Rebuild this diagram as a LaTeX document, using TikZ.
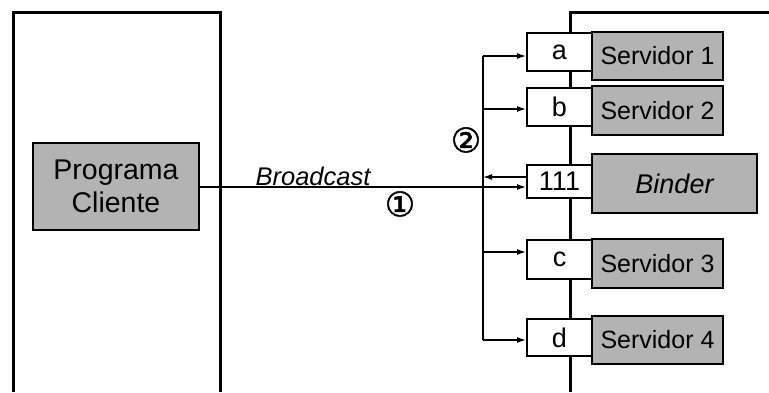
\documentclass[tikz,border=0pt]{standalone}
\usepackage{fontspec}
\setmainfont{Liberation Sans}
\newfontfamily\symfont[FakeBold=1.5]{DejaVu Sans}
\usetikzlibrary{arrows.meta}
\definecolor{boxgray}{HTML}{B3B3B3}
\tikzset{
  machine/.style={line width=3pt},
  procbox/.style={draw, line width=2pt, fill=boxgray, rectangle, inner sep=0pt, font=\fontsize{25}{28}\selectfont},
  portbox/.style={draw, line width=2pt, fill=white, rectangle, inner sep=0pt, font=\fontsize{27}{30}\selectfont},
  msg/.style={line width=1.3pt, -{Latex[length=9pt,width=6pt]}},
  wire/.style={line width=1.3pt},
  lbl/.style={inner sep=0pt, font=\fontsize{25.5}{28}\selectfont\itshape},
  num/.style={inner sep=0pt, font=\fontsize{34}{36}\selectfont\symfont}
}
\begin{document}
\begin{tikzpicture}[x=1pt,y=-1pt]
\useasboundingbox (0,0) rectangle (769,392);
% machines
\draw[machine] (13,392) -- (13,12) -- (220,12) -- (220,392);
\draw[machine] (570,392) -- (570,12) -- (769,12);
% client
\node[procbox, minimum width=166pt, minimum height=87pt, align=center, font=\fontsize{28.5}{33}\selectfont] (client) at (116,186.5) {Programa\\Cliente};
% ports
\node[portbox, minimum width=65pt, minimum height=38pt] (pa) at (559.5,52) {a};
\node[portbox, minimum width=65pt, minimum height=38pt] (pb) at (559.5,107) {b};
\node[portbox, minimum width=65pt, minimum height=33pt] (pbind) at (559.5,181.5) {111};
\node[portbox, minimum width=65pt, minimum height=39pt] (pc) at (559.5,259.5) {c};
\node[portbox, minimum width=65pt, minimum height=37pt] (pd) at (559.5,337.5) {d};
% servers
\node[procbox, minimum width=131pt, minimum height=48pt] (s1) at (657.5,56) {Servidor 1};
\node[procbox, minimum width=131pt, minimum height=49pt] (s2) at (657.5,110.5) {Servidor 2};
\node[procbox, minimum width=165pt, minimum height=59pt, font=\fontsize{27}{30}\selectfont\itshape] (binder) at (674.5,183.5) {Binder};
\node[procbox, minimum width=131pt, minimum height=49pt] (s3) at (657.5,263.5) {Servidor 3};
\node[procbox, minimum width=131pt, minimum height=48pt] (s4) at (657.5,340) {Servidor 4};
% bus
\coordinate (bustop) at (483,56);
\coordinate (busbot) at (483,340);
\coordinate (busb) at (483,109);
\coordinate (busret) at (483,177);
\coordinate (busc) at (483,252);
\draw[wire] (bustop) -- (busbot);
% broadcast
\draw[msg] (client.east |- 0,187) -- (pbind.west |- 0,187);
\draw[msg] (pbind.west |- busret) -- (busret);
\draw[msg] (bustop) -- (pa.west |- bustop);
\draw[msg] (busb) -- (pb.west |- busb);
\draw[msg] (busc) -- (pc.west |- busc);
\draw[msg] (busbot) -- (pd.west |- busbot);
% labels
\node[lbl] (bc) at (313,176) {Broadcast};
\node[num] (n1) at (400,204) {①};
\node[num] (n2) at (466,140) {②};
\end{tikzpicture}
\end{document}
